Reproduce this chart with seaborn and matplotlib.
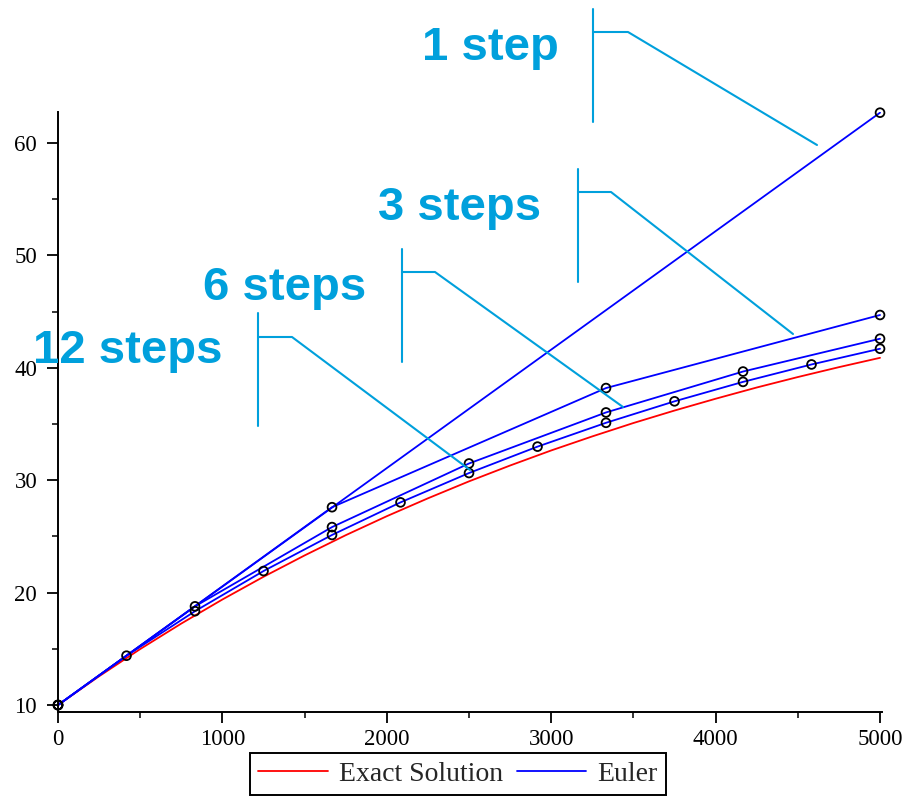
import matplotlib
matplotlib.use("Agg")
import matplotlib.pyplot as plt
from matplotlib.lines import Line2D
from matplotlib.ticker import MultipleLocator
import numpy as np
import pandas as pd
import seaborn as sns

# ---- data ----
exact_t = [0, 250, 500, 750, 1000, 1250, 1500, 1750, 2000, 2250, 2500,
           2750, 3000, 3250, 3500, 3750, 4000, 4250, 4500, 4750, 5000]
exact_y = [10.0, 12.56, 14.98, 17.25, 19.39, 21.41, 23.31, 25.11, 26.80, 28.39, 29.90,
           31.31, 32.65, 33.90, 35.09, 36.20, 37.25, 38.25, 39.18, 40.06, 40.89]

euler1_t = [0, 5000]
euler1_y = [10.0, 62.7]

euler3_t = [0, 1666.7, 3333.3, 5000]
euler3_y = [10.0, 27.6, 38.2, 44.7]

euler6_t = [0, 833.3, 1666.7, 2500, 3333.3, 4166.7, 5000]
euler6_y = [10.0, 18.78, 25.83, 31.49, 36.03, 39.67, 42.59]

euler12_t = [0, 416.7, 833.3, 1250, 1666.7, 2083.3, 2500, 2916.7, 3333.3,
             3750, 4166.7, 4583.3, 5000]
euler12_y = [10.0, 14.39, 18.35, 21.92, 25.13, 28.03, 30.64, 32.99, 35.11,
             37.02, 38.75, 40.30, 41.70]

legend_labels = ["Exact Solution", "Euler"]
annot_labels = ["1 step", "3 steps", "6 steps", "12 steps"]

# ---- frames ----
exact_df = pd.DataFrame({"t": exact_t, "y": exact_y})
euler_df = pd.concat([
    pd.DataFrame({"t": euler1_t, "y": euler1_y, "steps": 1}),
    pd.DataFrame({"t": euler3_t, "y": euler3_y, "steps": 3}),
    pd.DataFrame({"t": euler6_t, "y": euler6_y, "steps": 6}),
    pd.DataFrame({"t": euler12_t, "y": euler12_y, "steps": 12}),
], ignore_index=True)

sns.set_style("ticks")
plt.rcParams["font.family"] = ["Liberation Serif", "DejaVu Serif"]

W, H = 904, 796
fig = plt.figure(figsize=(W / 100, H / 100), dpi=100)


def fp(x, y):
    return (x / W, 1 - y / H)


ax = fig.add_axes([58 / W, 1 - 712 / H, (882 - 58) / W, 600 / H])

sns.lineplot(data=exact_df, x="t", y="y", color="red", lw=1.3, ax=ax,
             sort=False, legend=False)
sns.lineplot(data=euler_df, x="t", y="y", units="steps", estimator=None,
             color="blue", lw=1.3, ax=ax, sort=False, legend=False)
sns.scatterplot(data=euler_df, x="t", y="y", marker="o", s=40,
                facecolor="none", edgecolor="black", linewidth=1.3,
                ax=ax, legend=False, clip_on=False, zorder=5)

ax.set_xlim(0, 5012)
ax.set_ylim(9.38, 62.76)
ax.xaxis.set_major_locator(MultipleLocator(1000))
ax.xaxis.set_minor_locator(MultipleLocator(500))
ax.yaxis.set_major_locator(MultipleLocator(10))
ax.yaxis.set_minor_locator(MultipleLocator(5))
ax.tick_params(which="major", direction="out", length=8, width=1.3,
               labelsize=16.5, colors="black")
ax.tick_params(axis="y", which="major", pad=7)
ax.tick_params(axis="x", which="major", pad=4)
ax.tick_params(which="minor", direction="out", length=4, width=1.3)
ax.set_xlabel("")
ax.set_ylabel("")
sns.despine(ax=ax)
for s in ["left", "bottom"]:
    ax.spines[s].set_linewidth(1.4)
    ax.spines[s].set_color("black")

# legend below plot
handles = [Line2D([], [], color="red", lw=1.3), Line2D([], [], color="blue", lw=1.3)]
leg = fig.legend(handles, legend_labels, loc="upper center",
                 bbox_to_anchor=fp(458, 753), ncol=2, frameon=True,
                 fancybox=False, edgecolor="black", framealpha=1,
                 prop={"family": "Liberation Serif", "size": 20},
                 handlelength=2.5, handletextpad=0.4, columnspacing=0.5,
                 borderpad=0.3, borderaxespad=0)
leg.get_frame().set_linewidth(1.4)

# callout annotations
cc = "#00a0dc"
texts = [(annot_labels[0], 422, 60), (annot_labels[1], 378, 220),
         (annot_labels[2], 203, 300), (annot_labels[3], 33, 363)]
for txt, x, y in texts:
    fig.text(*fp(x, y), txt, color=cc, fontsize=34, fontweight="bold",
             family=["Liberation Sans", "DejaVu Sans"], ha="left", va="baseline",
             zorder=10)

callouts = [
    (593, 9, 122, 32, 628, (817, 145)),
    (578, 169, 282, 192, 611, (793, 334)),
    (402, 249, 362, 272, 435, (623, 407)),
    (258, 313, 426, 337, 292, (470, 470)),
]
for vx, vy0, vy1, hy, hx, end in callouts:
    p0, p1 = fp(vx, vy0), fp(vx, vy1)
    fig.add_artist(Line2D([p0[0], p1[0]], [p0[1], p1[1]], color=cc, lw=1.5,
                          transform=fig.transFigure, zorder=10))
    a, b, c = fp(vx, hy), fp(hx, hy), fp(*end)
    fig.add_artist(Line2D([a[0], b[0], c[0]], [a[1], b[1], c[1]], color=cc,
                          lw=1.5, transform=fig.transFigure, zorder=10))

fig.savefig("out.png", dpi=100)
